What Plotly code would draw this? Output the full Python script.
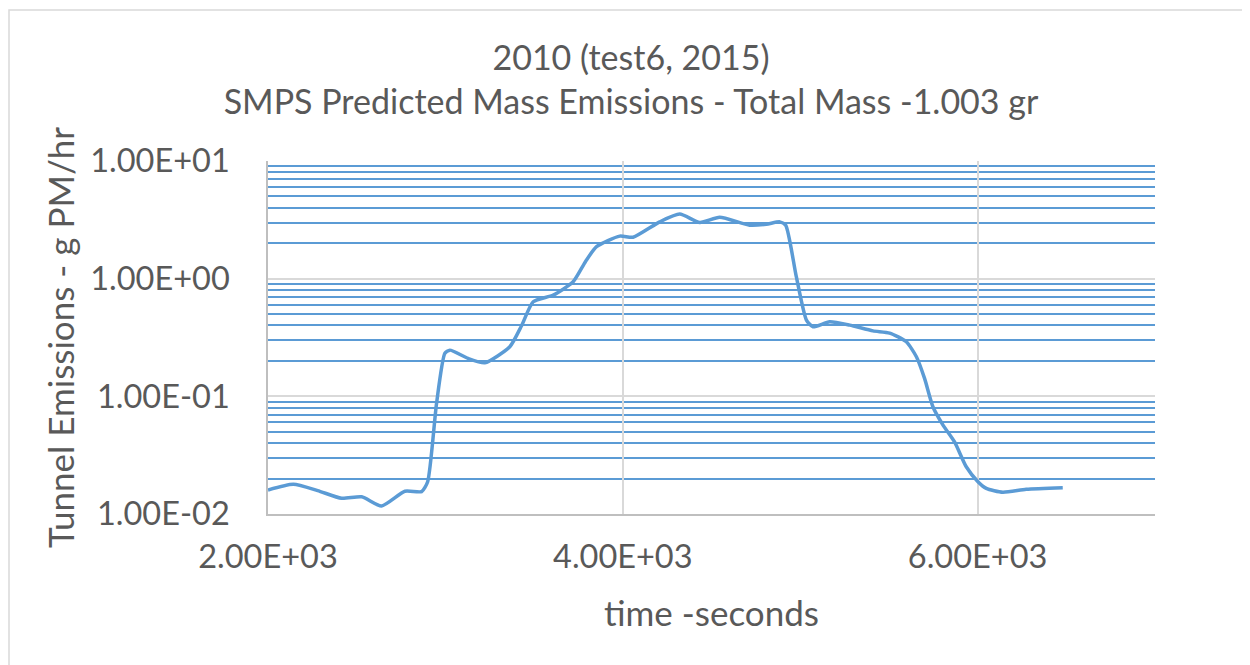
import plotly.graph_objects as go

time_s = [2000, 2143, 2280, 2415, 2528, 2640, 2772, 2866, 2900, 2950, 2997, 3025, 3128, 3222,
          3363, 3430, 3495, 3608, 3720, 3790, 3852, 3983, 4058, 4208, 4321, 4434, 4546,
          4715, 4809, 4885, 4918, 4978, 5035, 5072, 5166, 5279, 5410, 5504, 5598, 5655,
          5701, 5748, 5805, 5870, 5936, 6002, 6049, 6142, 6274, 6480]
emis = [0.016, 0.0179, 0.0158, 0.0136, 0.014, 0.0117, 0.0156, 0.0155, 0.0188, 0.087, 0.232, 0.247,
        0.21, 0.193, 0.264, 0.40, 0.637, 0.726, 0.94, 1.4, 1.87, 2.30, 2.25, 3.04, 3.54, 3.0, 3.32,
        2.85, 2.9, 3.04, 2.85, 1.04, 0.445, 0.39, 0.43, 0.403, 0.36, 0.345, 0.291, 0.217,
        0.142, 0.0816, 0.057, 0.041, 0.0252, 0.0188, 0.0165, 0.0153, 0.0162, 0.0167]

y_ticks = [0.01, 0.1, 1, 10]
y_labels = ["1.00E-02", "1.00E-01", "1.00E+00", "1.00E+01"]
x_ticks = [2000, 4000, 6000]
x_labels = ["2.00E+03", "4.00E+03", "6.00E+03"]
y_minor = [m * d for d in [0.01, 0.1, 1] for m in range(2, 10)]

FONT = "Lato"
TXT = "#595959"
BLUE = "#5B9BD5"
GRID = "#D9D9D9"

L, R, T, B = 260, 103, 153, 159
W, H = 1250, 665
PW, PH = W - L - R, H - T - B

fig = go.Figure()
fig.add_trace(go.Scatter(x=time_s, y=emis, mode="lines",
                         line=dict(color=BLUE, width=3.5, shape="spline", smoothing=0.6),
                         showlegend=False, hoverinfo="skip"))

fig.update_layout(
    width=W, height=H,
    margin=dict(l=L, r=R, t=T, b=B),
    paper_bgcolor="white", plot_bgcolor="white",
    font=dict(family=FONT, color=TXT),
    title=dict(text="2010 (test6, 2015)<br>SMPS Predicted Mass Emissions - Total Mass -1.003 gr",
               x=(631 - 8) / W, xanchor="center", y=1 - 62 / H, yanchor="middle",
               font=dict(size=34, family=FONT, color=TXT)),
)
fig.update_xaxes(range=[2000, 7000], tickvals=x_ticks, ticktext=x_labels,
                 showgrid=True, gridcolor=GRID, gridwidth=1.5,
                 showline=True, linecolor="#BFBFBF", linewidth=1.5,
                 ticks="", ticklabelstandoff=13,
                 tickfont=dict(size=32.5, family=FONT, color=TXT),
                 title=dict(text="time -seconds", font=dict(size=35, family=FONT, color=TXT),
                            standoff=28),
                 zeroline=False)
fig.update_yaxes(type="log", range=[-2, 1], tickvals=y_ticks, ticktext=y_labels,
                 showgrid=True, gridcolor=GRID, gridwidth=1.5,
                 minor=dict(showgrid=True, gridcolor=BLUE, gridwidth=1.5, tickvals=y_minor, ticks=""),
                 showline=True, linecolor="#BFBFBF", linewidth=1.5,
                 ticks="", ticklabelstandoff=30,
                 tickfont=dict(size=32.5, family=FONT, color=TXT),
                 title=dict(text="Tunnel Emissions - g PM/hr", font=dict(size=35, family=FONT, color=TXT),
                            standoff=5),
                 zeroline=False)

# outer chart border (top and left visible)
fig.add_shape(type="rect", xref="paper", yref="paper",
              x0=(1 - L) / PW, x1=(W + 60 - L) / PW,
              y0=(T + PH - (H + 60)) / PH, y1=(T + PH - 2) / PH,
              line=dict(color="#D9D9D9", width=1.5), layer="below")

fig.write_html("out.html")
